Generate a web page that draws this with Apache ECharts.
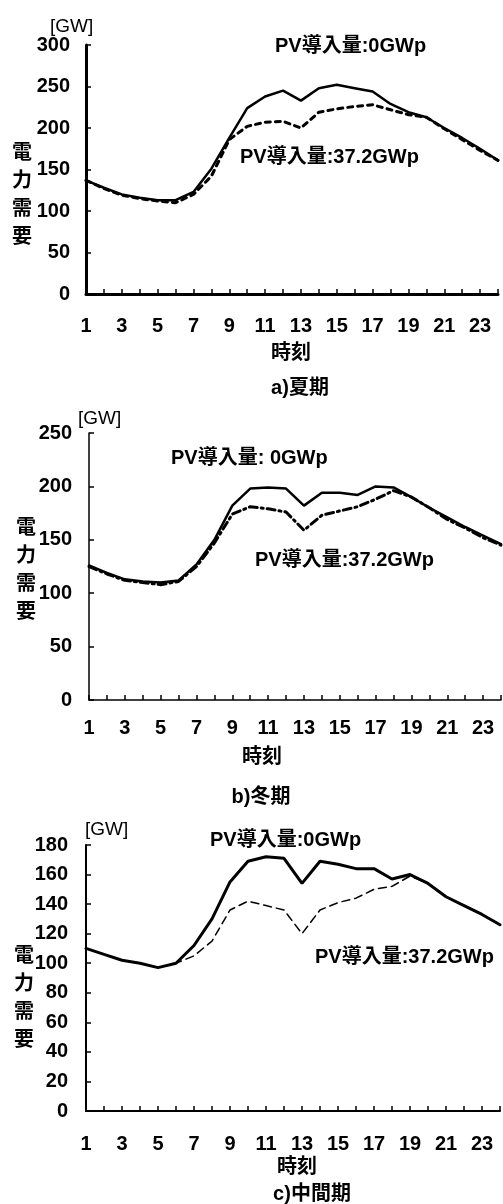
<!DOCTYPE html>
<html>
<head>
<meta charset="utf-8">
<script src="https://cdn.jsdelivr.net/npm/echarts@6/dist/echarts.min.js"></script>
<style>
  body { margin: 0; background: #fff; }
  #main { width: 503px; height: 1204px; }
</style>
</head>
<body>
<div id="main"></div>
<script>
// 時刻 (x軸)
const hours = ['1', '2', '3', '4', '5', '6', '7', '8', '9', '10', '11', '12',
  '13', '14', '15', '16', '17', '18', '19', '20', '21', '22', '23', '24'];

// a) 夏期
const summerPv0 = [137, 128, 120, 116, 113, 113, 123, 151, 188, 224, 238, 245,
  233, 248, 252, 248, 244, 229, 219, 213, 200, 188, 175, 161];
const summerPv37 = [137, 127, 119, 115, 112, 110, 120, 142, 186, 202, 207, 208,
  200, 219, 223, 226, 228, 222, 216, 213, 199, 186, 173, 161];

// b) 冬期
const winterPv0 = [126, 119, 113, 111, 110, 112, 127, 150, 182, 198, 199, 198,
  182, 194, 194, 192, 200, 199, 190, 180, 171, 162, 154, 146];
const winterPv37 = [125, 118, 112, 110, 108, 111, 125, 147, 174, 181, 179, 176,
  159, 173, 177, 181, 188, 196, 190, 180, 169, 161, 152, 145];

// c) 中間期
const midPv0 = [110, 106, 102, 100, 97, 100, 112, 130, 155, 169, 172, 171,
  154, 169, 167, 164, 164, 157, 160, 154, 145, 139, 133, 126];
const midPv37 = [110, 106, 102, 100, 97, 100, 105, 115, 136, 142, 139, 136,
  120, 136, 141, 144, 150, 152, 159, 154, 145, 139, 133, 126];

const FONT = "'Liberation Sans', 'Noto Sans CJK JP', sans-serif";

let myChart = echarts.init(document.getElementById('main'));

function xAx(idx, w, margin) {
  return {
    type: 'category', gridIndex: idx, data: hours, boundaryGap: false,
    axisLine: {lineStyle: {color: '#000', width: w}},
    axisTick: {inside: true, length: 5, interval: 0, lineStyle: {color: '#000', width: 1.5}},
    axisLabel: {interval: 1, margin: margin, color: '#000', fontSize: 20, fontWeight: 'bold', fontFamily: FONT},
    splitLine: {show: false}
  };
}

function yAx(idx, max, step, w, margin) {
  return {
    type: 'value', gridIndex: idx, min: 0, max: max, interval: step,
    axisLine: {show: true, lineStyle: {color: '#000', width: w}},
    axisTick: {show: true, inside: true, length: 5, lineStyle: {color: '#000', width: 1.5}},
    axisLabel: {margin: margin, color: '#000', fontSize: 20, fontWeight: 'bold', fontFamily: FONT},
    splitLine: {show: false}
  };
}

function line(idx, data, width, type) {
  return {
    type: 'line', xAxisIndex: idx, yAxisIndex: idx, data: data,
    showSymbol: false, symbol: 'none', animation: false,
    lineStyle: {color: '#000', width: width, type: type, cap: 'round'}
  };
}

function txt(x, y, s, size, bold, align) {
  return {
    type: 'text', x: x, y: y,
    style: {
      text: s, fill: '#000', fontSize: size, fontWeight: bold ? 'bold' : 'normal',
      fontFamily: FONT, align: align || 'left', verticalAlign: 'middle', lineHeight: 28
    }
  };
}

let option = {
  backgroundColor: '#fff',
  animation: false,
  grid: [
    {left: 86, top: 45, width: 412, height: 249},
    {left: 89, top: 433, width: 412, height: 267},
    {left: 86, top: 845, width: 414, height: 266}
  ],
  xAxis: [xAx(0, 3, 22), xAx(1, 1.5, 18), xAx(2, 2, 23)],
  yAxis: [yAx(0, 300, 50, 3, 16), yAx(1, 250, 50, 1.5, 17), yAx(2, 180, 20, 2, 18)],
  series: [
    line(0, summerPv0, 2.5, 'solid'),
    line(0, summerPv37, 3, [5, 5]),
    line(1, winterPv0, 2.5, 'solid'),
    line(1, winterPv37, 3, [8, 4, 2, 4]),
    line(2, midPv0, 3, 'solid'),
    line(2, midPv37, 1.5, [8, 5])
  ],
  graphic: [
    // a) 夏期
    txt(50, 27, '[GW]', 19, false),
    txt(22, 195, '電\n力\n需\n要', 20, true, 'center'),
    txt(275, 46, 'PV導入量:0GWp', 20, true),
    txt(240, 157, 'PV導入量:37.2GWp', 20, true),
    txt(291, 353, '時刻', 20, true, 'center'),
    txt(300, 388, 'a)夏期', 20, true, 'center'),
    // b) 冬期
    txt(78, 419, '[GW]', 19, false),
    txt(26, 570, '電\n力\n需\n要', 20, true, 'center'),
    txt(171, 458, 'PV導入量: 0GWp', 20, true),
    txt(255, 560, 'PV導入量:37.2GWp', 20, true),
    txt(262, 757, '時刻', 20, true, 'center'),
    txt(261, 797, 'b)冬期', 20, true, 'center'),
    // c) 中間期
    txt(85, 830, '[GW]', 19, false),
    txt(24, 998, '電\n力\n需\n要', 20, true, 'center'),
    txt(210, 840, 'PV導入量:0GWp', 20, true),
    txt(315, 957, 'PV導入量:37.2GWp', 20, true),
    txt(297, 1167, '時刻', 20, true, 'center'),
    txt(312, 1194, 'c)中間期', 20, true, 'center')
  ]
};

myChart.setOption(option);
</script>
</body>
</html>
